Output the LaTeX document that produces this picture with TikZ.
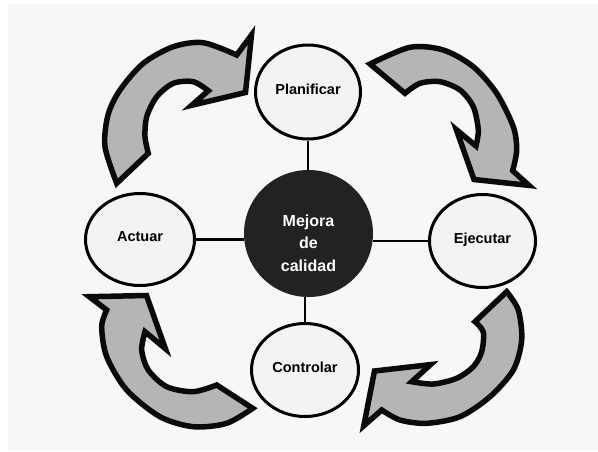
\documentclass[tikz,border=0pt]{standalone}
\usepackage{fontspec}
\setmainfont{Liberation Sans}
\usetikzlibrary{shapes.geometric}
\definecolor{bgc}{HTML}{F7F7F7}
\definecolor{cfill}{HTML}{F3F3F3}
\definecolor{mfill}{HTML}{222222}
\definecolor{afill}{HTML}{B5B5B5}
\definecolor{aline}{HTML}{0A0A0A}
\begin{document}
\begin{tikzpicture}[x=1pt,y=-1pt,
  phase/.style={ellipse, draw=black, line width=3pt, fill=cfill, inner sep=0pt,
    font=\bfseries\fontsize{14.5}{17}\selectfont, text height=10.5pt, text depth=5.7pt},
  hub/.style={ellipse, fill=mfill, inner sep=0pt, minimum width=129pt, minimum height=127pt},
  hubtext/.style={text=white, font=\bfseries\fontsize{16}{22.2}\selectfont, align=center, inner sep=0pt},
  conn/.style={draw=black, line width=2.5pt},
  cyc/.style={fill=afill, draw=aline, line width=5.5pt, line join=miter, miter limit=20}]
\path[fill=white] (0,0) rectangle (598,451);
\fill[bgc] (8,4) rectangle (598,451);
\useasboundingbox (0,0) rectangle (598,451);

% cycle arrows
\filldraw[cyc] plot[smooth] coordinates {(116.7,183.3) (105,146.7) (108,115) (120,90) (143.3,63.3) (173.3,46.7) (203.3,42.7) (236.7,55)}
  -- (251.5,35) -- (245.5,92.5) -- (191.7,105.3) -- (208.3,90.7)
  -- plot[smooth] coordinates {(208.3,90.7) (193.3,81.7) (173.3,83.3) (156.7,96.7) (146.7,116.7) (145,136.7) (148.3,153.3)} -- cycle;

\filldraw[cyc] plot[smooth] coordinates {(370,64) (410,47.3) (443.3,50) (473.3,66.7) (496.7,93.3) (513.3,126.7) (516.7,150) (512.7,170.7)}
  -- (529,185.4) -- (474,179.5) -- (456.3,129.6) -- (476,146)
  -- plot[smooth] coordinates {(476,146) (478.3,130) (473.3,106.7) (460,90) (440,81.7) (420,83.3) (405,93.3)} -- cycle;

\filldraw[cyc] plot[smooth] coordinates {(252.7,408.3) (226.7,423.3) (193.3,426.7) (160,416.7) (126.7,390) (106.7,356.7) (101.7,326.7) (106.7,310)}
  -- (89.3,296.7) -- (146.5,295.5) -- (165.4,348.7) -- (145,331.7)
  -- plot[smooth] coordinates {(145,331.7) (141.7,350) (148.3,370) (166.7,386.7) (193.3,391.7) (216.7,385)} -- cycle;

\filldraw[cyc] plot[smooth] coordinates {(506.7,291.7) (518.3,310) (521.7,340) (513.3,370) (490,396.7) (460,416.7) (426.7,423.3) (400,420) (381.7,410)}
  -- (363.8,425.7) -- (374.5,371) -- (430.5,364.6) -- (411.7,381.7)
  -- plot[smooth] coordinates {(411.7,381.7) (433.3,384) (456.7,378.3) (473.3,366.7) (481.7,351.7) (483.3,332) (475,321.7)} -- cycle;

% nodes
\node[phase, minimum width=105pt, minimum height=94pt] (plan) at (308,92) {Planificar};
\node[phase, minimum width=109pt, minimum height=92pt] (act) at (140,239.5) {Actuar};
\node[phase, minimum width=106pt, minimum height=93pt] (eje) at (482.5,241) {Ejecutar};
\node[phase, minimum width=107pt, minimum height=93pt] (ctl) at (305,370) {Controlar};
\node[hub] (mid) at (308.5,233.5) {};
\node[hubtext] (midtxt) at ([yshift=-9.6pt]mid.center) {Mejora\\de\\calidad};

% connectors
\draw[conn] (plan.south) -- (plan.south |- mid.north);
\draw[conn] (ctl.north) -- (ctl.north |- mid.south);
\draw[conn] (act.east) -- (act.east -| mid.west);
\draw[conn] (eje.west) -- (eje.west -| mid.east);
\end{tikzpicture}
\end{document}
